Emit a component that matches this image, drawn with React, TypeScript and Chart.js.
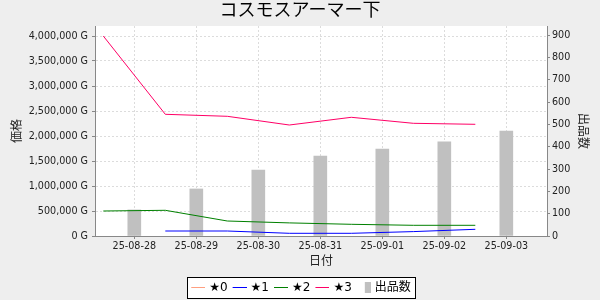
import React, { useEffect, useRef } from "react";
import { Chart, registerables } from "chart.js";

Chart.register(...registerables);

const TITLE = "コスモスアーマー下";
const dates = ["25-08-28", "25-08-29", "25-08-30", "25-08-31", "25-09-01", "25-09-02", "25-09-03"];
const star0: (number | null)[] = [null, null, null, null, null, null, null];
const star1: (number | null)[] = [null, 100000, 100000, 54000, 54000, 88000, 134000];
const star2: (number | null)[] = [500000, 514000, 300000, 262000, 234000, 214000, 214000];
const star3: (number | null)[] = [4000000, 2434000, 2394000, 2220000, 2374000, 2254000, 2234000];
const listings: number[] = [117, 211, 296, 359, 390, 422, 471];
const seriesNames = ["★0", "★1", "★2", "★3", "出品数"];
const seriesColors = ["#ff9f80", "#0000ff", "#008000", "#ff0066", "#c0c0c0"];
const priceTicks = [0, 500000, 1000000, 1500000, 2000000, 2500000, 3000000, 3500000, 4000000];
const countTicks = [0, 100, 200, 300, 400, 500, 600, 700, 800, 900];
const leftTitle = "価格";
const rightTitle = "出品数";
const xTitle = "日付";

const FONT = "'DejaVu Sans', 'Noto Sans CJK JP', sans-serif";

function markerLine(color: string) {
  const c = document.createElement("canvas");
  c.width = 18;
  c.height = 1;
  const g = c.getContext("2d")!;
  g.fillStyle = color;
  g.fillRect(4, 0, 14, 1);
  return c;
}
function markerBox(color: string) {
  const c = document.createElement("canvas");
  c.width = 18;
  c.height = 11;
  const g = c.getContext("2d")!;
  g.fillStyle = color;
  g.fillRect(12, 0, 6, 11);
  return c;
}

export default function App() {
  const ref = useRef<HTMLCanvasElement | null>(null);

  useEffect(() => {
    if (!ref.current) return;
    const markers = seriesColors.map((c, i) => (i === 4 ? markerBox(c) : markerLine(c)));

    const linePts = (arr: (number | null)[]) => arr.map((v, i) => ({ x: i - 0.5, y: v }));
    const lineDs = (idx: number, data: (number | null)[]) => ({
      type: "line" as const,
      label: seriesNames[idx],
      data: linePts(data),
      borderColor: seriesColors[idx],
      backgroundColor: seriesColors[idx],
      borderWidth: 1,
      pointRadius: 0,
      pointHoverRadius: 0,
      tension: 0,
      yAxisID: "y",
      order: 1,
    });

    const bgPlugin = {
      id: "bg",
      beforeDraw(chart: any) {
        const { ctx, chartArea } = chart;
        ctx.save();
        ctx.fillStyle = "#eeeeee";
        ctx.fillRect(0, 0, chart.width, chart.height);
        ctx.fillStyle = "#ffffff";
        ctx.fillRect(chartArea.left, chartArea.top, chartArea.right - chartArea.left, chartArea.bottom - chartArea.top);
        const lg = chart.legend;
        if (lg && lg.legendHitBoxes && lg.legendHitBoxes.length) {
          const hb = lg.legendHitBoxes;
          const first = hb[0];
          const last = hb[hb.length - 1];
          const x1 = Math.round(first.left - 2) + 0.5;
          const x2 = Math.round(last.left + last.width + 4) + 0.5;
          const cy = first.top + first.height / 2;
          const y1 = Math.round(cy - 10.5) + 0.5;
          const y2 = Math.round(cy + 10.5) + 0.5;
          ctx.fillStyle = "#ffffff";
          ctx.fillRect(x1, y1, x2 - x1, y2 - y1);
          ctx.strokeStyle = "#000000";
          ctx.lineWidth = 1;
          ctx.strokeRect(x1, y1, x2 - x1, y2 - y1);
        }
        ctx.restore();
      },
    };

    const tickFont = { family: FONT, size: 9.6 };
    const setTicks = (vals: number[]) => (s: any) => {
      s.ticks = vals.map((v) => ({ value: v }));
    };
    const chart = new Chart(ref.current, {
      type: "bar",
      data: {
        datasets: [
          lineDs(0, star0),
          lineDs(1, star1),
          lineDs(2, star2),
          lineDs(3, star3),
          {
            type: "bar" as const,
            label: seriesNames[4],
            data: listings.map((v, i) => ({ x: i, y: v })),
            backgroundColor: seriesColors[4],
            borderWidth: 0,
            barThickness: 13,
            yAxisID: "y1",
            order: 2,
          } as any,
        ],
      },
      options: {
        responsive: false,
        animation: false,
        devicePixelRatio: 1,
        layout: { padding: { left: 0, right: 0, top: 0, bottom: -3.5 } },
        plugins: {
          title: {
            display: true,
            text: TITLE,
            color: "#000",
            font: { family: FONT, size: 18, weight: "normal" },
            padding: { top: 1, bottom: 3.4 },
          },
          legend: {
            display: true,
            position: "bottom",
            labels: {
              usePointStyle: true,
              pointStyleWidth: 14,
              boxHeight: 12,
              padding: 3,
              color: "#000",
              font: { family: FONT, size: 12 },
              generateLabels: (c: any) => {
                const items = (Chart.defaults.plugins.legend.labels as any).generateLabels(c);
                items.forEach((it: any) => {
                  it.pointStyle = markers[it.datasetIndex];
                });
                return items;
              },
            },
          },
          tooltip: { enabled: false },
        },
        scales: {
          x: {
            type: "linear",
            offset: false,
            min: -0.634,
            max: 6.656,
            afterFit: (s: any) => {
              s.height = 42.5;
            },
            afterBuildTicks: setTicks(dates.map((_, i) => i)),
            ticks: {
              autoSkip: false,
              maxRotation: 0,
              padding: 2,
              color: "#222",
              font: tickFont,
              callback: (v: any) => {
                const i = Math.round(Number(v));
                return dates[i] ?? "";
              },
            },
            grid: {
              display: true,
              offset: false,
              color: "#dcdcdc",
              tickColor: "#888",
              tickLength: 3,
              tickBorderDash: [],
            },
            border: { display: true, color: "#888", width: 1, dash: [2, 2] },
            title: {
              display: true,
              text: xTitle,
              color: "#222",
              font: { family: FONT, size: 12 },
              padding: { top: 0, bottom: 9.6 },
            },
          },
          y: {
            type: "linear",
            position: "left",
            min: 0,
            max: 4200000,
            afterFit: (s: any) => {
              s.width = 95;
            },
            afterBuildTicks: setTicks(priceTicks),
            ticks: {
              padding: 4,
              color: "#222",
              font: tickFont,
              callback: (v: any) => Number(v).toLocaleString("en-US") + " G",
            },
            grid: {
              display: true,
              color: "#dcdcdc",
              tickColor: "#888",
              tickLength: 3,
              tickBorderDash: [],
            },
            border: { display: true, color: "#888", width: 1, dash: [2, 2] },
            title: {
              display: true,
              text: leftTitle,
              color: "#222",
              font: { family: FONT, size: 12 },
              padding: { top: 11, bottom: 0 },
            },
          },
          y1: {
            type: "linear",
            position: "right",
            min: 0,
            max: 942,
            afterFit: (s: any) => {
              s.width = 53;
            },
            afterBuildTicks: setTicks(countTicks),
            ticks: {
              padding: 2,
              color: "#222",
              font: tickFont,
            },
            grid: {
              display: true,
              drawOnChartArea: false,
              tickColor: "#888",
              tickLength: 3,
              tickBorderDash: [],
            },
            border: { display: true, color: "#888", width: 1 },
            title: {
              display: true,
              text: rightTitle,
              color: "#222",
              font: { family: FONT, size: 12 },
              padding: { top: 11, bottom: 0 },
            },
          },
        },
      } as any,
      plugins: [bgPlugin],
    });
    return () => chart.destroy();
  }, []);

  return (
    <div style={{ position: "absolute", left: 0, top: 0, width: 600, height: 300 }}>
      <canvas ref={ref} width={600} height={300} style={{ display: "block", width: 600, height: 300 }} />
    </div>
  );
}
